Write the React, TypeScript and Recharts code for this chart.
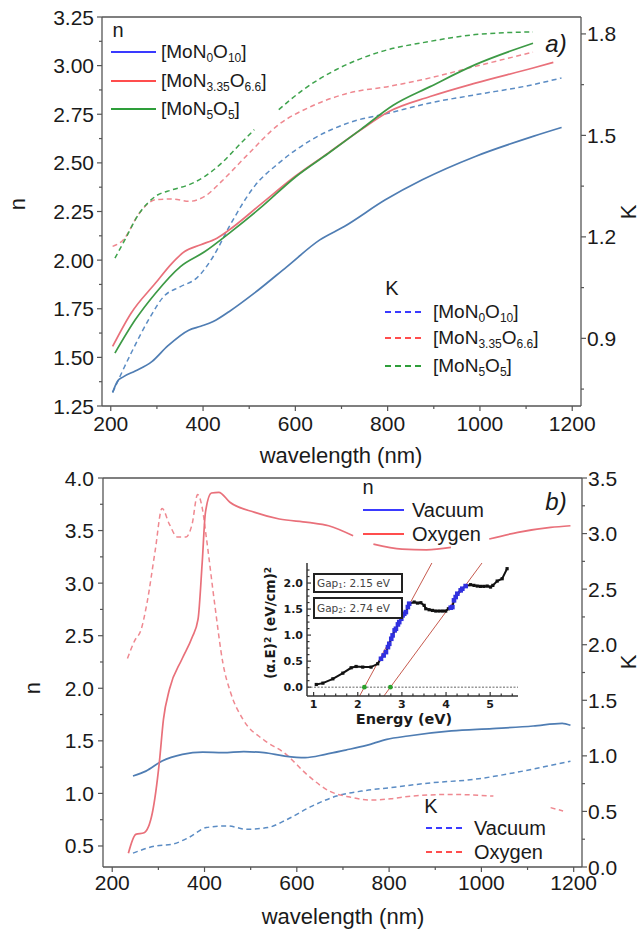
import React from 'react';
import { ComposedChart, Line, XAxis, YAxis, ReferenceLine } from 'recharts';

const FONT = '"Liberation Sans", Arial, Helvetica, sans-serif';
const DV = '"DejaVu Sans", Verdana, sans-serif';

// ---------- Panel a) : n (left) and K (right) vs wavelength ----------
const aBlueN_wl = [204, 209, 214, 227, 253, 289, 324, 369, 395, 422, 457, 511, 582, 653, 706, 795, 875, 990, 1115, 1177];
const aBlueN = [1.32, 1.35, 1.375, 1.4, 1.43, 1.478, 1.56, 1.64, 1.66, 1.684, 1.736, 1.83, 1.967, 2.104, 2.173, 2.31, 2.413, 2.533, 2.636, 2.682];

const aRedN_wl = [204, 244, 297, 333, 360, 395, 430, 457, 528, 599, 671, 742, 803, 892, 990, 1115, 1159];
const aRedN = [1.556, 1.727, 1.882, 1.985, 2.044, 2.079, 2.113, 2.156, 2.293, 2.43, 2.55, 2.67, 2.764, 2.841, 2.91, 2.988, 3.017];

const aGreenN_wl = [209, 253, 297, 351, 404, 457, 528, 599, 671, 742, 812, 892, 990, 1115];
const aGreenN = [1.522, 1.693, 1.83, 1.967, 2.044, 2.139, 2.276, 2.425, 2.548, 2.672, 2.796, 2.892, 3.005, 3.115];

const aBlueK_wl = [204, 244, 282, 315, 351, 386, 422, 457, 511, 564, 635, 715, 803, 892, 990, 1115, 1177];
const aBlueK = [0.74, 0.856, 0.955, 1.024, 1.053, 1.078, 1.142, 1.231, 1.349, 1.418, 1.487, 1.537, 1.566, 1.596, 1.62, 1.65, 1.67];

const aRedK_wl = [204, 227, 262, 297, 333, 369, 404, 440, 493, 564, 635, 715, 803, 892, 990, 1115];
const aRedK = [1.172, 1.191, 1.27, 1.31, 1.312, 1.305, 1.32, 1.364, 1.438, 1.532, 1.586, 1.625, 1.645, 1.67, 1.704, 1.746];

const aGreenK_wl = [209, 227, 262, 297, 333, 369, 404, 440, 475, 511, 538, 564, 617, 688, 777, 892, 990, 1115];
const aGreenK = [1.137, 1.182, 1.27, 1.32, 1.339, 1.354, 1.379, 1.418, 1.467, 1.517, null, 1.576, 1.635, 1.694, 1.744, 1.778, 1.798, 1.806];

// ---------- Panel b) : Vacuum / Oxygen ----------
const bOxyN_wl = [235, 251, 269, 287, 302, 311, 324, 351, 373, 386, 395, 402, 415, 431, 455, 509, 562, 624, 669, 722, 745, 766, 828, 881, 934, 975, 1017, 1079, 1150, 1193];
const bOxyN = [0.43, 0.61, 0.626, 0.816, 1.292, 1.705, 1.99, 2.276, 2.483, 2.657, 3.197, 3.673, 3.857, 3.864, 3.769, 3.673, 3.61, 3.578, 3.546, 3.45, null, 3.371, 3.324, 3.317, 3.34, null, 3.42, 3.483, 3.53, 3.546];

const bOxyK_wl = [233, 249, 262, 275, 293, 308, 324, 341, 360, 373, 385, 395, 404, 422, 440, 457, 484, 528, 573, 626, 671, 715, 760, 804, 848, 937, 1026, 1090, 1150, 1177];
const bOxyK = [1.876, 2.039, 2.129, 2.367, 2.844, 3.226, 3.083, 2.97, 2.97, 3.083, 3.351, 3.232, 2.963, 2.367, 1.831, 1.563, 1.324, 1.145, 1.026, 0.817, 0.682, 0.629, 0.602, 0.614, 0.638, 0.653, 0.638, null, 0.534, 0.504];

const bVacN_wl = [245, 273, 308, 352, 396, 440, 485, 529, 574, 618, 662, 706, 751, 795, 841, 935, 1024, 1112, 1175, 1193];
const bVacN = [1.165, 1.212, 1.308, 1.371, 1.393, 1.387, 1.397, 1.387, 1.355, 1.34, 1.371, 1.412, 1.457, 1.514, 1.546, 1.594, 1.616, 1.641, 1.667, 1.648];

const bVacK_wl = [245, 295, 331, 366, 404, 449, 491, 537, 580, 633, 686, 740, 801, 890, 981, 1070, 1141, 1193];
const bVacK = [0.125, 0.19, 0.206, 0.266, 0.355, 0.37, 0.34, 0.355, 0.43, 0.548, 0.638, 0.683, 0.713, 0.757, 0.787, 0.847, 0.906, 0.951];

// ---------- Inset: (alpha.E)^2 vs Energy ----------
const inE = [1.06, 1.21, 1.436, 1.662, 1.85, 1.962, 2.113, 2.3, 2.451, 2.526, 2.586, 2.639, 2.684, 2.714, 2.759, 2.789, 2.835, 2.865, 2.91, 2.94, 2.985, 3.015, 3.053, 3.09, 3.135, 3.165, 3.278, 3.353, 3.429, 3.504, 3.541, 3.617, 3.692, 3.767, 3.842, 3.917, 3.992, 4.053, 4.105, 4.143, 4.18, 4.218, 4.256, 4.331, 4.368, 4.444, 4.556, 4.632, 4.707, 4.782, 4.857, 4.932, 5.008, 5.06, 5.158, 5.271, 5.383];
const inV = [0.051, 0.077, 0.16, 0.269, 0.372, 0.397, 0.385, 0.385, 0.449, 0.545, 0.609, 0.673, 0.769, 0.833, 0.929, 0.994, 1.09, 1.122, 1.205, 1.25, 1.314, 1.378, 1.41, 1.442, 1.538, 1.603, 1.635, 1.615, 1.622, 1.571, 1.506, 1.487, 1.474, 1.462, 1.462, 1.462, 1.462, 1.506, 1.526, 1.538, 1.667, 1.731, 1.795, 1.859, 1.891, 1.942, 1.968, 1.955, 1.942, 1.936, 1.936, 1.942, 1.923, 1.955, 2.038, 2.083, 2.276];
const fitE = [2.526, 2.586, 2.639, 2.684, 2.714, 2.759, 2.789, 2.835, 2.865, 2.91, 2.94, 2.985, 3.015, 3.053, 3.09, 3.135, 3.165, 4.105, 4.143, 4.18, 4.218, 4.256, 4.331, 4.368, 4.444];
const fitV = [0.545, 0.609, 0.673, 0.769, 0.833, 0.929, 0.994, 1.09, 1.122, 1.205, 1.25, 1.314, 1.378, 1.41, 1.442, 1.538, 1.603, 1.526, 1.538, 1.667, 1.731, 1.795, 1.859, 1.891, 1.942];
const gap1LineE = [2.041, 3.679];
const gap1LineV = [-0.17, 2.385];
const gap2LineE = [2.592, 4.814];
const gap2LineV = [-0.17, 2.385];
const gapE = [2.15, 2.74];
const gapV = [0, 0];

// ---------- ticks ----------
const wlTicks = [200, 300, 400, 500, 600, 700, 800, 900, 1000, 1100, 1200];
const wlMajor = [200, 400, 600, 800, 1000, 1200];
const aNTicks = [1.25, 1.375, 1.5, 1.625, 1.75, 1.875, 2.0, 2.125, 2.25, 2.375, 2.5, 2.625, 2.75, 2.875, 3.0, 3.125, 3.25];
const aNMajor = [1.25, 1.5, 1.75, 2.0, 2.25, 2.5, 2.75, 3.0, 3.25];
const aKTicks = [0.75, 0.9, 1.05, 1.2, 1.35, 1.5, 1.65, 1.8];
const aKMajor = [0.9, 1.2, 1.5, 1.8];
const bNTicks = [0.5, 0.75, 1.0, 1.25, 1.5, 1.75, 2.0, 2.25, 2.5, 2.75, 3.0, 3.25, 3.5, 3.75, 4.0];
const bNMajor = [0.5, 1.0, 1.5, 2.0, 2.5, 3.0, 3.5, 4.0];
const bKTicks = [0, 0.25, 0.5, 0.75, 1.0, 1.25, 1.5, 1.75, 2.0, 2.25, 2.5, 2.75, 3.0, 3.25, 3.5];
const bKMajor = [0, 0.5, 1.0, 1.5, 2.0, 2.5, 3.0, 3.5];
const inXTicks = [1, 1.25, 1.5, 1.75, 2, 2.25, 2.5, 2.75, 3, 3.25, 3.5, 3.75, 4, 4.25, 4.5, 4.75, 5, 5.25, 5.5];
const inXMajor = [1, 2, 3, 4, 5];
const inYTicks = [0, 0.125, 0.25, 0.375, 0.5, 0.625, 0.75, 0.875, 1.0, 1.125, 1.25, 1.375, 1.5, 1.625, 1.75, 1.875, 2.0, 2.125, 2.25];
const inYMajor = [0, 0.5, 1.0, 1.5, 2.0];

const pts = (xs: number[], ys: (number | null)[]) => xs.map((w, i) => ({ w, v: ys[i] }));
const epts = (xs: number[], ys: number[]) => xs.map((E, i) => ({ E, v: ys[i] }));

const AX = '#555';
const C = {
  blueN: '#4f7db3', redN: '#e9707a', greenN: '#3d9a45',
  blueK: '#5b8cc4', redK: '#ef8890', greenK: '#3ea34c',
  legBlue: '#3a3aff', legRed: '#ff4d4d', legGreen: '#2e9e3a',
};

type TickCfg = {
  side: 'left' | 'right' | 'bottom' | 'top';
  majors: number[];
  digits: number;
  fs: number;
  gap: number;
  len: number;
  minorLen: number;
  inward?: boolean;
  font?: string;
  weight?: number | string;
  noLabel?: boolean;
  color?: string;
  stroke?: string;
};

const mkTick = (cfg: TickCfg) => (props: any) => {
  const { x, y, payload, index } = props;
  const v = Number(payload.value);
  const isMajor = cfg.majors.some((m) => Math.abs(m - v) < 1e-6);
  const L = isMajor ? cfg.len : cfg.minorLen;
  const d = cfg.inward ? -1 : 1;
  const label = cfg.noLabel || !isMajor ? '' : v.toFixed(cfg.digits);
  const st = cfg.stroke || AX;
  const tp = {
    fontSize: cfg.fs,
    fontFamily: cfg.font || FONT,
    fontWeight: cfg.weight || 'normal',
    fill: cfg.color || '#1a1a1a',
  } as any;
  const bl = 0.358 * cfg.fs;
  if (cfg.side === 'bottom') {
    return (
      <g key={`t${index}`}>
        <line x1={x} y1={y} x2={x} y2={y + d * L} stroke={st} strokeWidth={1.2} />
        {label && <text x={x} y={y + cfg.gap + bl} textAnchor="middle" {...tp}>{label}</text>}
      </g>
    );
  }
  if (cfg.side === 'top') {
    return (
      <g key={`t${index}`}>
        <line x1={x} y1={y} x2={x} y2={y - d * L} stroke={st} strokeWidth={1.2} />
      </g>
    );
  }
  if (cfg.side === 'left') {
    return (
      <g key={`t${index}`}>
        <line x1={x} y1={y} x2={x - d * L} y2={y} stroke={st} strokeWidth={1.2} />
        {label && <text x={x - cfg.gap} y={y + bl} textAnchor="end" {...tp}>{label}</text>}
      </g>
    );
  }
  return (
    <g key={`t${index}`}>
      <line x1={x} y1={y} x2={x + d * L} y2={y} stroke={st} strokeWidth={1.2} />
      {label && <text x={x + cfg.gap} y={y + bl} textAnchor="start" {...tp}>{label}</text>}
    </g>
  );
};

const Txt = ({ x, y, size, children, rot, style }: any) => (
  <div
    style={{
      position: 'absolute', left: x, top: y, fontSize: size, lineHeight: 1, whiteSpace: 'nowrap',
      transform: `translate(-50%, -50%)${rot ? ` rotate(${rot}deg)` : ''}`, color: '#1a1a1a', ...style,
    }}
  >
    {children}
  </div>
);

const Sub = ({ children }: any) => (
  <sub style={{ fontSize: 12, verticalAlign: '-0.35em', lineHeight: 0 }}>{children}</sub>
);

const LegendRow = ({ x1, x2, y, textX, color, dashed, children, size = 19 }: any) => (
  <>
    <svg style={{ position: 'absolute', left: x1, top: y - 3, overflow: 'visible' }} width={x2 - x1} height={6}>
      <line x1={0} y1={3} x2={x2 - x1} y2={3} stroke={color} strokeWidth={2} strokeDasharray={dashed ? '6 4' : undefined} />
    </svg>
    <div style={{ position: 'absolute', left: textX, top: y - 13, height: 26, lineHeight: '26px', fontSize: size, whiteSpace: 'nowrap', color: '#1a1a1a' }}>
      {children}
    </div>
  </>
);

const F1 = () => (<span>[MoN<Sub>0</Sub>O<Sub>10</Sub>]</span>);
const F2 = () => (<span>[MoN<Sub>3.35</Sub>O<Sub>6.6</Sub>]</span>);
const F3 = () => (<span>[MoN<Sub>5</Sub>O<Sub>5</Sub>]</span>);

const lineProps = { type: 'monotone' as const, dot: false, isAnimationActive: false, connectNulls: false, dataKey: 'v' };

export default function App() {
  return (
    <div style={{ position: 'absolute', left: 0, top: 0, width: 642, height: 934, background: '#fff', fontFamily: FONT, overflow: 'hidden' }}>
      {/* Panel a */}
      <div style={{ position: 'absolute', left: 0, top: 0 }}>
        <ComposedChart width={642} height={470} margin={{ top: 17, right: 0, bottom: 0, left: 0 }}>
          <XAxis xAxisId="x" type="number" dataKey="w" domain={[181, 1219]} allowDataOverflow ticks={wlTicks} interval={0}
            height={64} tickSize={0} tickMargin={0} tickLine={false} axisLine={{ stroke: AX, strokeWidth: 1.3 }}
            tick={mkTick({ side: 'bottom', majors: wlMajor, digits: 0, fs: 21, gap: 17, len: 5, minorLen: 3 })} />
          <YAxis yAxisId="n" orientation="left" type="number" domain={[1.25, 3.25]} allowDataOverflow ticks={aNTicks} interval={0}
            width={102} tickSize={0} tickMargin={0} tickLine={false} axisLine={{ stroke: AX, strokeWidth: 1.3 }}
            tick={mkTick({ side: 'left', majors: aNMajor, digits: 2, fs: 21, gap: 8, len: 5, minorLen: 3 })} />
          <YAxis yAxisId="k" orientation="right" type="number" domain={[0.7, 1.85]} allowDataOverflow ticks={aKTicks} interval={0}
            width={61} tickSize={0} tickMargin={0} tickLine={false} axisLine={{ stroke: AX, strokeWidth: 1.3 }}
            tick={mkTick({ side: 'right', majors: aKMajor, digits: 1, fs: 21, gap: 6, len: 5, minorLen: 3 })} />
          <ReferenceLine xAxisId="x" yAxisId="n" y={3.25} stroke={AX} strokeWidth={1.3} />
          <Line {...lineProps} xAxisId="x" yAxisId="k" data={pts(aBlueK_wl, aBlueK)} stroke={C.blueK} strokeWidth={1.5} strokeDasharray="5 3.5" />
          <Line {...lineProps} xAxisId="x" yAxisId="k" data={pts(aRedK_wl, aRedK)} stroke={C.redK} strokeWidth={1.5} strokeDasharray="5 3.5" />
          <Line {...lineProps} xAxisId="x" yAxisId="k" data={pts(aGreenK_wl, aGreenK)} stroke={C.greenK} strokeWidth={1.5} strokeDasharray="5 3.5" />
          <Line {...lineProps} xAxisId="x" yAxisId="n" data={pts(aBlueN_wl, aBlueN)} stroke={C.blueN} strokeWidth={1.7} />
          <Line {...lineProps} xAxisId="x" yAxisId="n" data={pts(aRedN_wl, aRedN)} stroke={C.redN} strokeWidth={1.7} />
          <Line {...lineProps} xAxisId="x" yAxisId="n" data={pts(aGreenN_wl, aGreenN)} stroke={C.greenN} strokeWidth={1.7} />
        </ComposedChart>
      </div>

      {/* Panel b */}
      <div style={{ position: 'absolute', left: 0, top: 455 }}>
        <ComposedChart width={642} height={479} margin={{ top: 23, right: 0, bottom: 0, left: 0 }}>
          <XAxis xAxisId="x" type="number" dataKey="w" domain={[180, 1218]} allowDataOverflow ticks={wlTicks} interval={0}
            height={67} tickSize={0} tickMargin={0} tickLine={false} axisLine={{ stroke: AX, strokeWidth: 1.3 }}
            tick={mkTick({ side: 'bottom', majors: wlMajor, digits: 0, fs: 21, gap: 15, len: 5, minorLen: 3 })} />
          <YAxis yAxisId="n" orientation="left" type="number" domain={[0.3, 4.0]} allowDataOverflow ticks={bNTicks} interval={0}
            width={103} tickSize={0} tickMargin={0} tickLine={false} axisLine={{ stroke: AX, strokeWidth: 1.3 }}
            tick={mkTick({ side: 'left', majors: bNMajor, digits: 1, fs: 21, gap: 9, len: 5, minorLen: 3 })} />
          <YAxis yAxisId="k" orientation="right" type="number" domain={[0, 3.5]} allowDataOverflow ticks={bKTicks} interval={0}
            width={60} tickSize={0} tickMargin={0} tickLine={false} axisLine={{ stroke: AX, strokeWidth: 1.3 }}
            tick={mkTick({ side: 'right', majors: bKMajor, digits: 1, fs: 21, gap: 6, len: 5, minorLen: 3 })} />
          <ReferenceLine xAxisId="x" yAxisId="n" y={4.0} stroke={AX} strokeWidth={1.3} />
          <Line {...lineProps} xAxisId="x" yAxisId="k" data={pts(bVacK_wl, bVacK)} stroke={C.blueK} strokeWidth={1.5} strokeDasharray="5 3.5" />
          <Line {...lineProps} xAxisId="x" yAxisId="k" data={pts(bOxyK_wl, bOxyK)} stroke={C.redK} strokeWidth={1.5} strokeDasharray="5 3.5" />
          <Line {...lineProps} xAxisId="x" yAxisId="n" data={pts(bVacN_wl, bVacN)} stroke={C.blueN} strokeWidth={1.7} />
          <Line {...lineProps} xAxisId="x" yAxisId="n" data={pts(bOxyN_wl, bOxyN)} stroke={C.redN} strokeWidth={1.7} />
        </ComposedChart>
      </div>

      {/* Inset */}
      <div style={{ position: 'absolute', left: 250, top: 552 }}>
        <ComposedChart width={280} height={180} margin={{ top: 11, right: 12, bottom: 0, left: 0 }}>
          <XAxis xAxisId="e" type="number" dataKey="E" domain={[0.85, 5.63]} allowDataOverflow ticks={inXTicks} interval={0}
            height={36} tickSize={0} tickMargin={0} tickLine={false} axisLine={{ stroke: '#333', strokeWidth: 1.5 }}
            tick={mkTick({ side: 'bottom', majors: inXMajor, digits: 0, fs: 11, gap: 8, len: 4, minorLen: 2.5, inward: true, font: DV, weight: 'bold', stroke: '#333' })} />
          <XAxis xAxisId="et" orientation="top" type="number" dataKey="E" domain={[0.85, 5.63]} allowDataOverflow ticks={inXTicks} interval={0}
            height={0} tickSize={0} tickMargin={0} tickLine={false} axisLine={{ stroke: '#333', strokeWidth: 1.5 }}
            tick={mkTick({ side: 'top', majors: inXMajor, digits: 0, fs: 11, gap: 9, len: 4, minorLen: 2.5, inward: true, noLabel: true, stroke: '#333' })} />
          <YAxis yAxisId="a" orientation="left" type="number" domain={[-0.17, 2.385]} allowDataOverflow ticks={inYTicks} interval={0}
            width={57} tickSize={0} tickMargin={0} tickLine={false} axisLine={{ stroke: '#333', strokeWidth: 1.5 }}
            tick={mkTick({ side: 'left', majors: inYMajor, digits: 1, fs: 11, gap: 4, len: 4, minorLen: 2.5, inward: true, font: DV, weight: 'bold', stroke: '#333' })} />
          <YAxis yAxisId="ar" orientation="right" type="number" domain={[-0.17, 2.385]} allowDataOverflow ticks={inYTicks} interval={0}
            width={0} tickSize={0} tickMargin={0} tickLine={false} axisLine={{ stroke: '#333', strokeWidth: 1.5 }}
            tick={mkTick({ side: 'right', majors: inYMajor, digits: 1, fs: 11, gap: 4, len: 4, minorLen: 2.5, inward: true, noLabel: true, stroke: '#333' })} />
          <ReferenceLine xAxisId="e" yAxisId="a" y={0} stroke="#999" strokeWidth={1.5} strokeDasharray="2 1.5" />
          <Line xAxisId="e" yAxisId="a" data={epts(gap1LineE, gap1LineV)} dataKey="v" type="linear" stroke="#c65a4e" strokeWidth={1} dot={false} isAnimationActive={false} />
          <Line xAxisId="e" yAxisId="a" data={epts(gap2LineE, gap2LineV)} dataKey="v" type="linear" stroke="#c65a4e" strokeWidth={1} dot={false} isAnimationActive={false} />
          <Line xAxisId="e" yAxisId="a" data={epts(inE, inV)} dataKey="v" type="linear" stroke="#111" strokeWidth={2} isAnimationActive={false}
            dot={(p: any) => <rect key={`b${p.index}`} x={p.cx - 1.6} y={p.cy - 1.6} width={3.2} height={3.2} fill="#111" />} />
          <Line xAxisId="e" yAxisId="a" data={epts(fitE, fitV)} dataKey="v" type="linear" stroke="none" isAnimationActive={false}
            dot={(p: any) => <rect key={`f${p.index}`} x={p.cx - 2.3} y={p.cy - 2.3} width={4.6} height={4.6} fill="#3030e0" />} />
          <Line xAxisId="e" yAxisId="a" data={epts(gapE, gapV)} dataKey="v" type="linear" stroke="none" isAnimationActive={false}
            dot={(p: any) => <circle key={`g${p.index}`} cx={p.cx} cy={p.cy} r={2.4} fill="#2ca02c" />} />
        </ComposedChart>
      </div>

      {/* Inset annotations */}
      <div style={{ position: 'absolute', left: 313, top: 573, width: 84, height: 16, border: '2px solid #222', fontFamily: DV, fontSize: 10.5, color: '#444', lineHeight: '16px', paddingLeft: 2, whiteSpace: 'nowrap', background: '#fff' }}>
        Gap<sub style={{ fontSize: 7, verticalAlign: '-0.2em', lineHeight: 0 }}>1</sub>: 2.15 eV
      </div>
      <div style={{ position: 'absolute', left: 313, top: 597, width: 84, height: 18, border: '2px solid #222', fontFamily: DV, fontSize: 10.5, color: '#444', lineHeight: '18px', paddingLeft: 2, whiteSpace: 'nowrap', background: '#fff' }}>
        Gap<sub style={{ fontSize: 7, verticalAlign: '-0.2em', lineHeight: 0 }}>2</sub>: 2.74 eV
      </div>
      <Txt x={404} y={719} size={14.5} style={{ fontFamily: DV, fontWeight: 'bold' }}>Energy (eV)</Txt>
      <Txt x={271} y={623} size={13.5} rot={-90} style={{ fontFamily: DV, fontWeight: 'bold' }}>
        (α.E)<sup style={{ fontSize: 9, verticalAlign: '0.5em', lineHeight: 0 }}>2</sup> (eV/cm)<sup style={{ fontSize: 9, verticalAlign: '0.5em', lineHeight: 0 }}>2</sup>
      </Txt>

      {/* Axis titles */}
      <Txt x={341} y={456} size={22}>wavelength (nm)</Txt>
      <Txt x={343} y={917} size={22}>wavelength (nm)</Txt>
      <Txt x={18} y={204} size={22} rot={-90}>n</Txt>
      <Txt x={33} y={688} size={22} rot={-90}>n</Txt>
      <Txt x={629} y={212} size={22} rot={-90}>K</Txt>
      <Txt x={629} y={662} size={22} rot={-90}>K</Txt>
      <Txt x={556} y={44} size={24} style={{ fontStyle: 'italic' }}>a)</Txt>
      <Txt x={556} y={502} size={24} style={{ fontStyle: 'italic' }}>b)</Txt>

      {/* Legends panel a */}
      <Txt x={118} y={30} size={20}>n</Txt>
      <LegendRow x1={111} x2={156} y={52} textX={161} color={C.legBlue}><F1 /></LegendRow>
      <LegendRow x1={111} x2={156} y={81} textX={161} color={C.legRed}><F2 /></LegendRow>
      <LegendRow x1={111} x2={156} y={109} textX={161} color={C.legGreen}><F3 /></LegendRow>

      <Txt x={392} y={288} size={20}>K</Txt>
      <LegendRow x1={385} x2={424} y={312} textX={433} color={C.legBlue} dashed><F1 /></LegendRow>
      <LegendRow x1={385} x2={424} y={338} textX={433} color={C.legRed} dashed><F2 /></LegendRow>
      <LegendRow x1={385} x2={424} y={366} textX={433} color={C.legGreen} dashed><F3 /></LegendRow>

      {/* Legends panel b */}
      <Txt x={368} y={487} size={20}>n</Txt>
      <LegendRow x1={363} x2={404} y={510} textX={412} color={C.legBlue} size={20}>Vacuum</LegendRow>
      <LegendRow x1={363} x2={404} y={534} textX={412} color={C.legRed} size={20}>Oxygen</LegendRow>

      <Txt x={431} y={806} size={20}>K</Txt>
      <LegendRow x1={426} x2={464} y={828} textX={474} color={C.legBlue} dashed size={20}>Vacuum</LegendRow>
      <LegendRow x1={426} x2={464} y={852} textX={474} color={C.legRed} dashed size={20}>Oxygen</LegendRow>
    </div>
  );
}
